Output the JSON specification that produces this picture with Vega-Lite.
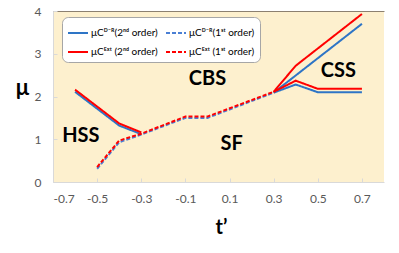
{
  "$schema": "https://vega.github.io/schema/vega-lite/v6.json",
  "width": 331,
  "height": 171,
  "autosize": {"type": "none"},
  "padding": {"left": 53, "top": 11, "right": 15, "bottom": 71},
  "background": "white",
  "config": {
    "view": {"fill": "#FDF0CE", "stroke": null},
    "font": "Lato"
  },
  "datasets": {
    "lines": [
      {"s": "μCᴰ⁻ᴿ(2ⁿᵈ order)", "g": "a", "t": -0.6, "mu": 2.11},
      {"s": "μCᴰ⁻ᴿ(2ⁿᵈ order)", "g": "a", "t": -0.4, "mu": 1.32},
      {"s": "μCᴰ⁻ᴿ(2ⁿᵈ order)", "g": "a", "t": -0.3, "mu": 1.12},
      {"s": "μCᴰ⁻ᴿ(2ⁿᵈ order)", "g": "b", "t": 0.3, "mu": 2.09},
      {"s": "μCᴰ⁻ᴿ(2ⁿᵈ order)", "g": "b", "t": 0.7, "mu": 3.7},
      {"s": "μCᴰ⁻ᴿ(2ⁿᵈ order)", "g": "c", "t": 0.3, "mu": 2.09},
      {"s": "μCᴰ⁻ᴿ(2ⁿᵈ order)", "g": "c", "t": 0.4, "mu": 2.28},
      {"s": "μCᴰ⁻ᴿ(2ⁿᵈ order)", "g": "c", "t": 0.5, "mu": 2.1},
      {"s": "μCᴰ⁻ᴿ(2ⁿᵈ order)", "g": "c", "t": 0.7, "mu": 2.1},
      {"s": "μCᴱˣᵗ (2ⁿᵈ order)", "g": "a", "t": -0.6, "mu": 2.16},
      {"s": "μCᴱˣᵗ (2ⁿᵈ order)", "g": "a", "t": -0.4, "mu": 1.37},
      {"s": "μCᴱˣᵗ (2ⁿᵈ order)", "g": "a", "t": -0.3, "mu": 1.16},
      {"s": "μCᴱˣᵗ (2ⁿᵈ order)", "g": "b", "t": 0.3, "mu": 2.11},
      {"s": "μCᴱˣᵗ (2ⁿᵈ order)", "g": "b", "t": 0.4, "mu": 2.72},
      {"s": "μCᴱˣᵗ (2ⁿᵈ order)", "g": "b", "t": 0.7, "mu": 3.93},
      {"s": "μCᴱˣᵗ (2ⁿᵈ order)", "g": "c", "t": 0.3, "mu": 2.11},
      {"s": "μCᴱˣᵗ (2ⁿᵈ order)", "g": "c", "t": 0.4, "mu": 2.37},
      {"s": "μCᴱˣᵗ (2ⁿᵈ order)", "g": "c", "t": 0.5, "mu": 2.18},
      {"s": "μCᴱˣᵗ (2ⁿᵈ order)", "g": "c", "t": 0.7, "mu": 2.18},
      {"s": "μCᴰ⁻ᴿ(1ˢᵗ order)", "g": "a", "t": -0.5, "mu": 0.31},
      {"s": "μCᴰ⁻ᴿ(1ˢᵗ order)", "g": "a", "t": -0.4, "mu": 0.93},
      {"s": "μCᴰ⁻ᴿ(1ˢᵗ order)", "g": "a", "t": -0.3, "mu": 1.11},
      {"s": "μCᴰ⁻ᴿ(1ˢᵗ order)", "g": "a", "t": -0.1, "mu": 1.5},
      {"s": "μCᴰ⁻ᴿ(1ˢᵗ order)", "g": "a", "t": 0.0, "mu": 1.5},
      {"s": "μCᴰ⁻ᴿ(1ˢᵗ order)", "g": "a", "t": 0.3, "mu": 2.09},
      {"s": "μCᴱˣᵗ (1ˢᵗ order)", "g": "a", "t": -0.5, "mu": 0.35},
      {"s": "μCᴱˣᵗ (1ˢᵗ order)", "g": "a", "t": -0.4, "mu": 0.97},
      {"s": "μCᴱˣᵗ (1ˢᵗ order)", "g": "a", "t": -0.3, "mu": 1.13},
      {"s": "μCᴱˣᵗ (1ˢᵗ order)", "g": "a", "t": -0.1, "mu": 1.53},
      {"s": "μCᴱˣᵗ (1ˢᵗ order)", "g": "a", "t": 0.0, "mu": 1.53},
      {"s": "μCᴱˣᵗ (1ˢᵗ order)", "g": "a", "t": 0.3, "mu": 2.11}
    ],
    "regions": [
      {"label": "CBS", "t": 0.0, "mu": 2.4},
      {"label": "SF", "t": 0.11, "mu": 0.88},
      {"label": "HSS", "t": -0.574, "mu": 1.08},
      {"label": "CSS", "t": 0.593, "mu": 2.6}
    ]
  },
  "layer": [
    {
      "data": {"name": "lines"},
      "mark": {"type": "line", "strokeWidth": 2},
      "encoding": {
        "x": {
          "field": "t", "type": "quantitative",
          "scale": {"domain": [-0.7, 0.8], "nice": false, "zero": false},
          "axis": {
            "orient": "bottom",
            "values": [-0.7, -0.5, -0.3, -0.1, 0.1, 0.3, 0.5, 0.7],
            "labelExpr": "replace(format(datum.value, '.1f'), '−', '-')",
            "grid": false,
            "labelFontSize": 12, "labelColor": "#595959", "labelPadding": 15,
            "domainColor": "#D9D9D9", "tickColor": "#D9D9D9", "tickSize": -4,
            "title": "t’", "titleFontSize": 20, "titleFontWeight": "bold", "titleColor": "#000000",
            "titleX": 168, "titleY": 51, "titleBaseline": "alphabetic", "titleAlign": "center"
          }
        },
        "y": {
          "field": "mu", "type": "quantitative",
          "scale": {"domain": [0, 4], "nice": false, "zero": false},
          "axis": {
            "values": [0, 1, 2, 3, 4],
            "format": "d",
            "grid": false,
            "labelFontSize": 12, "labelColor": "#595959", "labelPadding": 16,
            "domainColor": "#D9D9D9", "tickColor": "#D9D9D9", "tickSize": -4,
            "title": "μ", "titleFontSize": 22, "titleFontWeight": "bold", "titleColor": "#000000",
            "titleAngle": 0, "titleX": -31, "titleY": 83, "titleBaseline": "alphabetic", "titleAlign": "center"
          }
        },
        "color": {
          "field": "s", "type": "nominal",
          "scale": {
            "domain": ["μCᴰ⁻ᴿ(2ⁿᵈ order)", "μCᴰ⁻ᴿ(1ˢᵗ order)", "μCᴱˣᵗ (2ⁿᵈ order)", "μCᴱˣᵗ (1ˢᵗ order)"],
            "range": ["#2E75C6", "#4A7FD4", "#FF0000", "#FF0000"]
          },
          "legend": {
            "title": null,
            "orient": "none", "legendX": 9, "legendY": 6,
            "columns": 2, "direction": "horizontal",
            "fillColor": "#FFFFFF", "strokeColor": "#A6A6A6", "cornerRadius": 6,
            "padding": 5, "rowPadding": 3, "columnPadding": 4,
            "symbolType": "stroke", "symbolSize": 400, "symbolStrokeWidth": 2,
            "labelFontSize": 10, "labelColor": "#000000", "labelOffset": 2, "labelLimit": 200
          }
        },
        "strokeDash": {
          "field": "s", "type": "nominal",
          "scale": {
            "domain": ["μCᴰ⁻ᴿ(2ⁿᵈ order)", "μCᴰ⁻ᴿ(1ˢᵗ order)", "μCᴱˣᵗ (2ⁿᵈ order)", "μCᴱˣᵗ (1ˢᵗ order)"],
            "range": [[1, 0], [4, 2], [1, 0], [4, 2]]
          }
        },
        "detail": {"field": "g", "type": "nominal"}
      }
    },
    {
      "data": {"name": "regions"},
      "mark": {"type": "text", "fontSize": 20, "fontWeight": "bold", "color": "#000000", "align": "center", "baseline": "middle"},
      "encoding": {
        "x": {"field": "t", "type": "quantitative",
          "axis": {"orient": "top", "labels": false, "ticks": false, "grid": false, "title": null, "domainColor": "#8C8070", "domainWidth": 1.2}},
        "y": {"field": "mu", "type": "quantitative"},
        "text": {"field": "label", "type": "nominal"}
      }
    }
  ],
  "resolve": {"axis": {"x": "independent"}}
}
